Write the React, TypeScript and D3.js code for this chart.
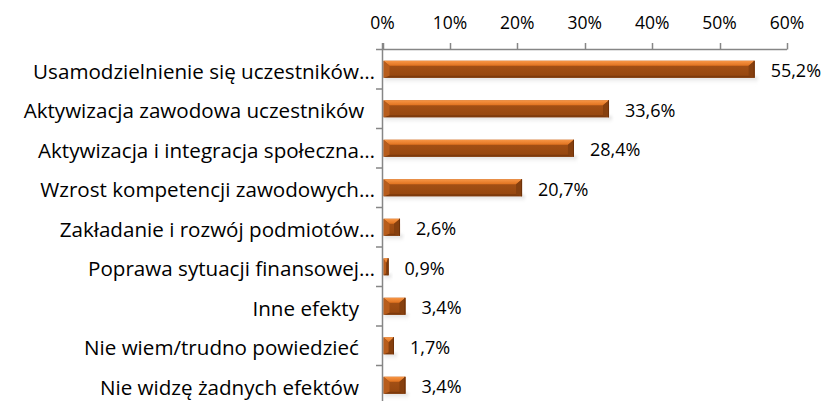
import React from "react";
import * as d3 from "d3";

const categories = [
  "Usamodzielnienie się uczestników…",
  "Aktywizacja zawodowa uczestników\u00a0\u00a0",
  "Aktywizacja i integracja społeczna…",
  "Wzrost kompetencji zawodowych…",
  "Zakładanie i rozwój podmiotów…",
  "Poprawa sytuacji finansowej…",
  "Inne efekty\u00a0\u00a0\u00a0",
  "Nie wiem/trudno powiedzieć\u00a0\u00a0\u00a0",
  "Nie widzę żadnych efektów\u00a0\u00a0\u00a0",
];
const values = [55.2, 33.6, 28.4, 20.7, 2.6, 0.9, 3.4, 1.7, 3.4];
const tickValues = [0, 10, 20, 30, 40, 50, 60];

const W = 825;
const H = 401;
const FONT = "'Open Sans', Lato, sans-serif";

export default function App() {
  const x = d3.scaleLinear().domain([0, 60]).range([382.5, 787]);
  const y = d3
    .scaleBand<number>()
    .domain(d3.range(categories.length))
    .range([49.5, 49.5 + 39.5 * categories.length])
    .paddingInner(0.57)
    .paddingOuter(0.285);
  const bandStep = y.step();
  const fmt = (v: number) => v.toFixed(1).replace(".", ",") + "%";

  return (
    <svg
      width={W}
      height={H}
      style={{ position: "absolute", left: 0, top: 0, background: "#fff" }}
    >
      <defs>
        <linearGradient id="topG" x1="0" y1="0" x2="0" y2="1">
          <stop offset="0" stopColor="#f79646" />
          <stop offset="1" stopColor="#e0721f" />
        </linearGradient>
        <linearGradient id="bodyG" x1="0" y1="0" x2="0" y2="1">
          <stop offset="0" stopColor="#a85317" />
          <stop offset="1" stopColor="#94460f" />
        </linearGradient>
        <linearGradient id="shadowG" x1="0" y1="0" x2="0" y2="1">
          <stop offset="0" stopColor="#c8c8c8" stopOpacity="0.8" />
          <stop offset="1" stopColor="#ffffff" stopOpacity="0" />
        </linearGradient>
        <filter id="blur" x="-10%" y="-50%" width="120%" height="200%">
          <feGaussianBlur stdDeviation="1.5" />
        </filter>
      </defs>

      {/* bars */}
      {values.map((v, i) => {
        const x0 = x(0) + 1;
        const x1 = x(v);
        const y0 = y(i)!;
        const h = y.bandwidth();
        const y1 = y0 + h;
        const w = x1 - x0;
        const b = Math.max(1, Math.min(6, w / 2));
        const bt = 5;
        const bb = 2;
        return (
          <g key={i}>
            <rect
              x={x0 + 1}
              y={y1 - 1}
              width={w + 2}
              height={8}
              fill="url(#shadowG)"
              filter="url(#blur)"
            />
            <rect x={x0} y={y0} width={w} height={h} fill="url(#bodyG)" />
            <polygon
              points={`${x0},${y0} ${x1},${y0} ${x1 - b},${y0 + bt} ${x0 + b},${y0 + bt}`}
              fill="url(#topG)"
            />
            <polygon
              points={`${x0},${y1} ${x1},${y1} ${x1 - b},${y1 - bb} ${x0 + b},${y1 - bb}`}
              fill="#7d3a0c"
            />
            <polygon
              points={`${x0},${y0} ${x0 + b},${y0 + bt} ${x0 + b},${y1 - bb} ${x0},${y1}`}
              fill="#b85d1c"
            />
            <polygon
              points={`${x1},${y0} ${x1 - b},${y0 + bt} ${x1 - b},${y1 - bb} ${x1},${y1}`}
              fill="#86400f"
            />
            <line
              x1={x1 - 0.5}
              x2={x1 - 0.5}
              y1={y0}
              y2={y1}
              stroke="#6e320a"
              strokeWidth={1}
            />
            <text
              x={x1 + 16}
              y={y0 + h / 2 + 1}
              dominantBaseline="central"
              fontFamily={FONT}
              fontSize={18}
              fill="#000"
            >
              {fmt(v)}
            </text>
          </g>
        );
      })}

      {/* top axis */}
      <line
        x1={x(0)}
        x2={x(60)}
        y1={49.5}
        y2={49.5}
        stroke="#868686"
        strokeWidth={1.5}
      />
      {tickValues.map((t) => (
        <g key={t}>
          <line
            x1={Math.round(x(t)) + 0.5}
            x2={Math.round(x(t)) + 0.5}
            y1={43}
            y2={49.5}
            stroke="#868686"
            strokeWidth={1.5}
          />
          <text
            x={x(t)}
            y={29}
            textAnchor="middle"
            fontFamily={FONT}
            fontSize={17.5}
            fill="#000"
          >
            {t}%
          </text>
        </g>
      ))}

      {/* left axis */}
      <line
        x1={382.5}
        x2={382.5}
        y1={43}
        y2={H + 10}
        stroke="#868686"
        strokeWidth={1.5}
      />
      {d3.range(categories.length + 1).map((i) => {
        const yy = 49.5 + i * bandStep;
        return (
          <line
            key={i}
            x1={376}
            x2={382.5}
            y1={yy}
            y2={yy}
            stroke="#868686"
            strokeWidth={1.5}
          />
        );
      })}
      {categories.map((c, i) => (
        <text
          key={i}
          x={375}
          y={y(i)! + y.bandwidth() / 2 + 1.5}
          textAnchor="end"
          dominantBaseline="central"
          fontFamily={FONT}
          fontSize={20.6}
          fill="#000"
          style={{ whiteSpace: "pre" }}
        >
          {c}
        </text>
      ))}
    </svg>
  );
}
